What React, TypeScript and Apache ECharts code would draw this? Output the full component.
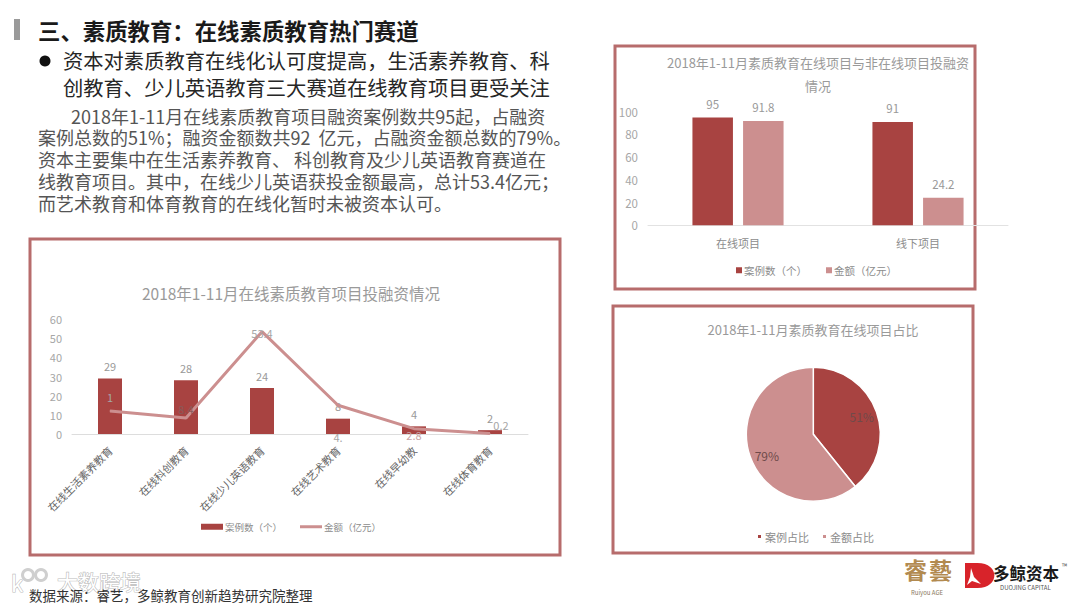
import React, { useEffect, useRef } from "react";
import * as echarts from "echarts";

const DARK = "#a84341";
const LIGHT = "#cc8f8f";
const FRAME = "#b76c6c";
const AXIS_TEXT = "#a6a6a6";
const CJK = '"Noto Sans CJK SC", "Noto Sans", sans-serif';

const mainCategories = ["在线生活素养教育", "在线科创教育", "在线少儿英语教育", "在线艺术教育", "在线早幼教", "在线体育教育"];
const caseCounts = [29, 28, 24, 8, 4, 2];
const amounts = [12, 8.4, 53.4, 15, 2.8, 0.2];
const amountLabels = ["1", "8.4", "53.4", "4.", "2.8", "0.2"];

const compareCategories = ["在线项目", "线下项目"];
const compareCases = [95, 91];
const compareAmounts = [91.8, 24.2];

const shareNames = ["案例占比", "金额占比"];
const shareValues = [51, 79];

const bodyLines = [
  "2018年1-11月在线素质教育项目融资案例数共95起，占融资",
  "案例总数的51%；融资金额数共92  亿元，占融资金额总数的79%。",
  "资本主要集中在生活素养教育、 科创教育及少儿英语教育赛道在",
  "线教育项目。其中，在线少儿英语获投金额最高，总计53.4亿元；",
  "而艺术教育和体育教育的在线化暂时未被资本认可。",
];
const bulletLines = [
  "资本对素质教育在线化认可度提高，生活素养教育、科",
  "创教育、少儿英语教育三大赛道在线教育项目更受关注",
];

echarts.graphic.registerShape(
  "dlogo",
  echarts.graphic.extendPath("M0 0 H10 C28 0 28 25 10 25 H0 Z", {}) as any
);

const txt = (text: string, x: number, y: number, fontSize: number, fill: string, extra: any = {}) => ({
  type: "text",
  x,
  y,
  style: { text, fontSize, fill, fontFamily: CJK, textVerticalAlign: "middle", verticalAlign: "middle", ...extra },
});

const frame = (x: number, y: number, width: number, height: number) => ({
  type: "rect",
  shape: { x, y, width, height },
  style: { fill: "none", stroke: FRAME, lineWidth: 3 },
});

const linePlacements: any[] = [
  { position: "top", distance: 8 },
  { position: "top", distance: 3, color: "#8a5a5a" },
  { position: "top", distance: -7 },
  { position: "bottom", distance: 26 },
  { position: "bottom", distance: 0, color: "#c9a5a5" },
  { position: "top", offset: [11, -1], distance: 2 },
];

const titleStyle = (fontSize: number, lineHeight?: number) => ({
  fontSize,
  lineHeight,
  fontWeight: "normal",
  color: "#9a9a9a",
  fontFamily: CJK,
});

const option: any = {
  animation: false,
  backgroundColor: "#ffffff",
  textStyle: { fontFamily: CJK },
  title: [
    {
      text: "2018年1-11月在线素质教育项目投融资情况",
      left: 286,
      top: 280,
      textAlign: "center",
      textStyle: titleStyle(15.5),
    },
    {
      text: "2018年1-11月素质教育在线项目与非在线项目投融资\n情况",
      left: 813,
      top: 46,
      textAlign: "center",
      textStyle: titleStyle(13, 23),
    },
    {
      text: "2018年1-11月素质教育在线项目占比",
      left: 808,
      top: 318,
      textAlign: "center",
      textStyle: titleStyle(13),
    },
  ],
  grid: [
    { left: 72, top: 319, width: 456, height: 115, containLabel: false },
    { left: 648, top: 111.7, width: 360, height: 113.6, containLabel: false },
  ],
  xAxis: [
    {
      type: "category",
      gridIndex: 0,
      data: mainCategories,
      axisTick: { show: false },
      axisLine: { lineStyle: { color: "#dddddd" } },
      axisLabel: { rotate: 45, margin: 14, fontSize: 10.8, color: "#666666", interval: 0, fontFamily: CJK },
    },
    {
      type: "category",
      gridIndex: 1,
      data: compareCategories,
      axisTick: { show: false },
      axisLine: { lineStyle: { color: "#e2e2e2" } },
      axisLabel: { margin: 12, fontSize: 11, color: "#8c8c8c", fontFamily: CJK },
    },
  ],
  yAxis: [
    {
      type: "value",
      gridIndex: 0,
      min: 0,
      max: 60,
      interval: 10,
      splitLine: { show: false },
      axisLine: { show: false },
      axisTick: { show: false },
      axisLabel: { margin: 10, fontSize: 11, color: AXIS_TEXT, fontFamily: CJK },
    },
    {
      type: "value",
      gridIndex: 1,
      min: 0,
      max: 100,
      interval: 20,
      splitLine: { show: false },
      axisLine: { show: false },
      axisTick: { show: false },
      axisLabel: { margin: 10, fontSize: 11.5, color: AXIS_TEXT, fontFamily: CJK },
    },
  ],
  legend: [
    {
      data: ["案例数（个）"],
      left: 196,
      top: 517,
      itemWidth: 22,
      itemHeight: 6,
      itemGap: 0,
      icon: "rect",
      textStyle: { fontSize: 9.5, color: "#8c8c8c", padding: [0, 0, 0, -3] },
      formatter: (n: string) => n.trim(),
    },
    {
      data: ["金额（亿元）"],
      left: 295,
      top: 517,
      itemWidth: 22,
      itemHeight: 3,
      icon: "rect",
      textStyle: { fontSize: 9.5, color: "#8c8c8c", padding: [0, 0, 0, -3] },
      formatter: (n: string) => n.trim(),
    },
    {
      data: ["案例数（个） ", "金额（亿元） "],
      left: 731,
      top: 260,
      itemWidth: 6,
      itemHeight: 6,
      itemGap: 19,
      icon: "rect",
      textStyle: { fontSize: 10.5, color: "#8c8c8c", padding: [0, 0, 0, -3] },
      formatter: (n: string) => n.trim(),
    },
    {
      data: shareNames,
      left: 751,
      top: 526,
      itemWidth: 5,
      itemHeight: 5,
      itemGap: 12,
      icon: "rect",
      textStyle: { fontSize: 11, color: "#8c8c8c", padding: [0, 0, 0, -2] },
    },
  ],
  series: [
    {
      type: "bar",
      name: "案例数（个）",
      xAxisIndex: 0,
      yAxisIndex: 0,
      data: caseCounts,
      barWidth: 24,
      itemStyle: { color: DARK },
      label: { show: true, position: "top", distance: 7, fontSize: 11, color: "#999999", fontFamily: CJK },
    },
    {
      type: "line",
      name: "金额（亿元）",
      xAxisIndex: 0,
      yAxisIndex: 0,
      data: amounts.map((value, i) => ({
        value,
        label: { show: true, formatter: amountLabels[i], ...linePlacements[i] },
      })),
      showSymbol: true,
      symbol: "circle",
      symbolSize: 1,
      lineStyle: { color: LIGHT, width: 3 },
      itemStyle: { color: LIGHT },
      label: { show: true, fontSize: 11, color: "#a6a6a6", fontFamily: CJK },
      z: 3,
    },
    {
      type: "bar",
      name: "案例数（个） ",
      xAxisIndex: 1,
      yAxisIndex: 1,
      data: compareCases,
      barWidth: 40.5,
      barGap: "25%",
      itemStyle: { color: DARK },
      label: { show: true, position: "top", distance: 8, fontSize: 11.5, color: "#999999", fontFamily: CJK },
    },
    {
      type: "bar",
      name: "金额（亿元） ",
      xAxisIndex: 1,
      yAxisIndex: 1,
      data: compareAmounts,
      barWidth: 40.5,
      barGap: "25%",
      itemStyle: { color: LIGHT },
      label: { show: true, position: "top", distance: 8, fontSize: 11.5, color: "#999999", fontFamily: CJK },
    },
    {
      type: "pie",
      center: [813.3, 434.3],
      radius: [0, 67],
      startAngle: 90,
      clockwise: true,
      data: shareNames.map((name, i) => ({
        name,
        value: shareValues[i],
        itemStyle: { color: i === 0 ? DARK : LIGHT },
        label: { offset: i === 0 ? [14, -6] : [-12, 9] },
      })),
      itemStyle: { borderColor: "#ffffff", borderWidth: 1.5 },
      label: {
        show: true,
        position: "inside",
        formatter: (p: any) => `${p.value}%`,
        fontSize: 12,
        color: "#6f4a4a",
        fontFamily: CJK,
      },
      labelLine: { show: false },
    },
  ],
  graphic: {
    type: "group",
    silent: true,
    children: [
      { type: "rect", shape: { x: 14, y: 19, width: 6, height: 21 }, style: { fill: "#9a9a9a" } },
      txt("三、素质教育：在线素质教育热门赛道", 38, 30, 22.4, "#1a1a1a", { fontWeight: "bold" }),
      { type: "circle", shape: { cx: 45, cy: 61, r: 5.5 }, style: { fill: "#111111" } },
      ...bulletLines.map((line, i) => txt(line, 63, 60 + i * 27, 20.3, "#262626")),
      ...bodyLines.map((line, i) => txt(line, i === 0 ? 71 : 38, 115.5 + i * 21.8, 18, "#555555")),
      frame(30, 239, 530, 316),
      frame(615, 46, 360, 243),
      frame(613, 306, 360, 247),
      { type: "ring", shape: { cx: 28, cy: 575, r: 7, r0: 4 }, style: { fill: "#cfcfcf" } },
      { type: "ring", shape: { cx: 41, cy: 575, r: 7, r0: 4 }, style: { fill: "#cfcfcf" } },
      txt("k", 11, 582, 22, "#ffffff", { stroke: "#bdbdbd", lineWidth: 1.2 }),
      txt("大数跨境", 57, 581, 21, "#ffffff", { stroke: "#bdbdbd", lineWidth: 1.2 }),
      txt("数据来源：睿艺，多鲸教育创新趋势研究院整理", 29, 595, 13.5, "#333333"),
      txt("睿", 904, 569, 23, "#b28a50", { fontWeight: "bold" }),
      txt("藝", 929, 569, 23, "#b28a50", { fontWeight: "bold" }),
      txt("Ruiyou AGE", 911, 592, 6, "#8a7a60"),
      { type: "dlogo", x: 965, y: 563, scaleX: 1.25, scaleY: 1, style: { fill: "#d8232a" } },
      { type: "polygon", shape: { points: [[971, 568], [974, 577], [981, 584], [972, 581], [967, 585], [970, 577]] }, style: { fill: "#ffffff" } },
      txt("多鲸资本", 993, 573, 16.5, "#1a1a1a", { fontWeight: "bold" }),
      txt("DUOJING CAPITAL", 1000, 587, 6, "#555555"),
      txt("™", 1062, 566, 7, "#555555"),
    ],
  },
};

export default function App() {
  const ref = useRef<HTMLDivElement>(null);
  useEffect(() => {
    document.body.style.margin = "0";
    const chart = echarts.init(ref.current!, undefined, { renderer: "svg" });
    chart.setOption(option);
    return () => chart.dispose();
  }, []);
  return <div ref={ref} style={{ position: "absolute", left: 0, top: 0, width: 1080, height: 608 }} />;
}
